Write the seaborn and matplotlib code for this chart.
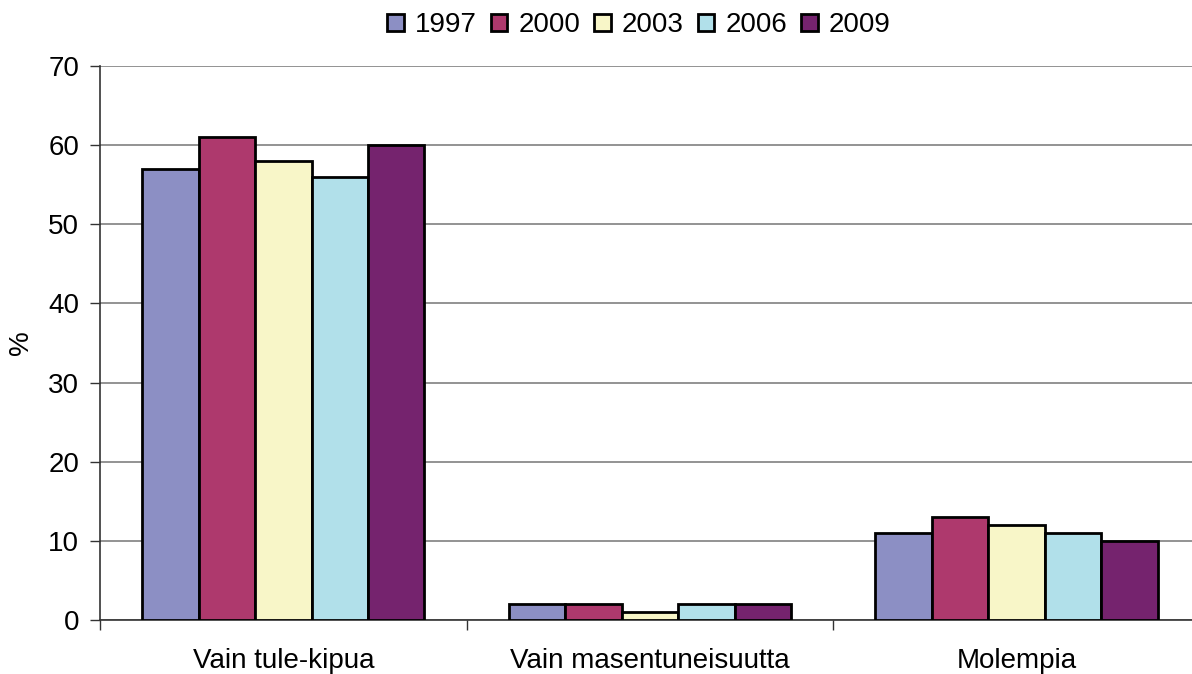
import matplotlib
matplotlib.use("Agg")
import matplotlib.pyplot as plt
import seaborn as sns
import pandas as pd

categories = ["Vain tule-kipua", "Vain masentuneisuutta", "Molempia"]
years = ["1997", "2000", "2003", "2006", "2009"]
values_1997 = [57, 2, 11]
values_2000 = [61, 2, 13]
values_2003 = [58, 1, 12]
values_2006 = [56, 2, 11]
values_2009 = [60, 2, 10]
colors = ["#8C8FC4", "#AE396D", "#F8F6C8", "#B1E0EA", "#75236E"]

series = [values_1997, values_2000, values_2003, values_2006, values_2009]
rows = []
for y, vals in zip(years, series):
    for c, v in zip(categories, vals):
        rows.append({"category": c, "year": y, "value": v})
df = pd.DataFrame(rows)

sns.set_style("white")
plt.rcParams["font.family"] = ["Liberation Sans", "DejaVu Sans"]
plt.rcParams["text.color"] = "black"

fig = plt.figure(figsize=(11.92, 6.74), dpi=100)
ax = fig.add_axes([100/1192, 1 - 620/674, 1100/1192, 554/674])

sns.barplot(data=df, x="category", y="value", hue="year", palette=colors,
            saturation=1, width=0.77, edgecolor="black", linewidth=2,
            ax=ax, zorder=3, legend=True)

ax.set_ylim(0, 70)
ax.set_xlim(-0.5, 2.5)
ax.set_yticks(range(0, 71, 10))
ax.yaxis.grid(True, color="#808080", linewidth=1.2, zorder=0)
ax.set_axisbelow(True)
ax.set_xlabel("")
ax.set_ylabel("%", fontsize=20, va="center", color="black")
ax.yaxis.set_label_coords(-0.072, 0.5)
ax.tick_params(axis="y", labelsize=20, length=7, width=1, color="#333333",
               labelcolor="black", direction="out", left=True, pad=8)
ax.tick_params(axis="x", which="major", labelsize=20, length=0, pad=20,
               labelcolor="black")
ax.set_xticks([0.5, 1.5, -0.5, 2.5], minor=True)
ax.tick_params(axis="x", which="minor", length=7, width=1, color="#333333", bottom=True)

for s in ["top", "right"]:
    ax.spines[s].set_visible(False)
for s in ["left", "bottom"]:
    ax.spines[s].set_color("#333333")
    ax.spines[s].set_linewidth(1.2)

handles, labels = ax.get_legend_handles_labels()
leg = ax.legend(handles, labels, loc="lower center", bbox_to_anchor=(0.49, 1.0), ncol=5,
                frameon=False, fontsize=20, handlelength=0.6, handleheight=0.6,
                handletextpad=0.4, columnspacing=0.5, borderaxespad=0.6)
for t in leg.get_texts():
    t.set_color("black")

fig.savefig("out.png", dpi=100)
